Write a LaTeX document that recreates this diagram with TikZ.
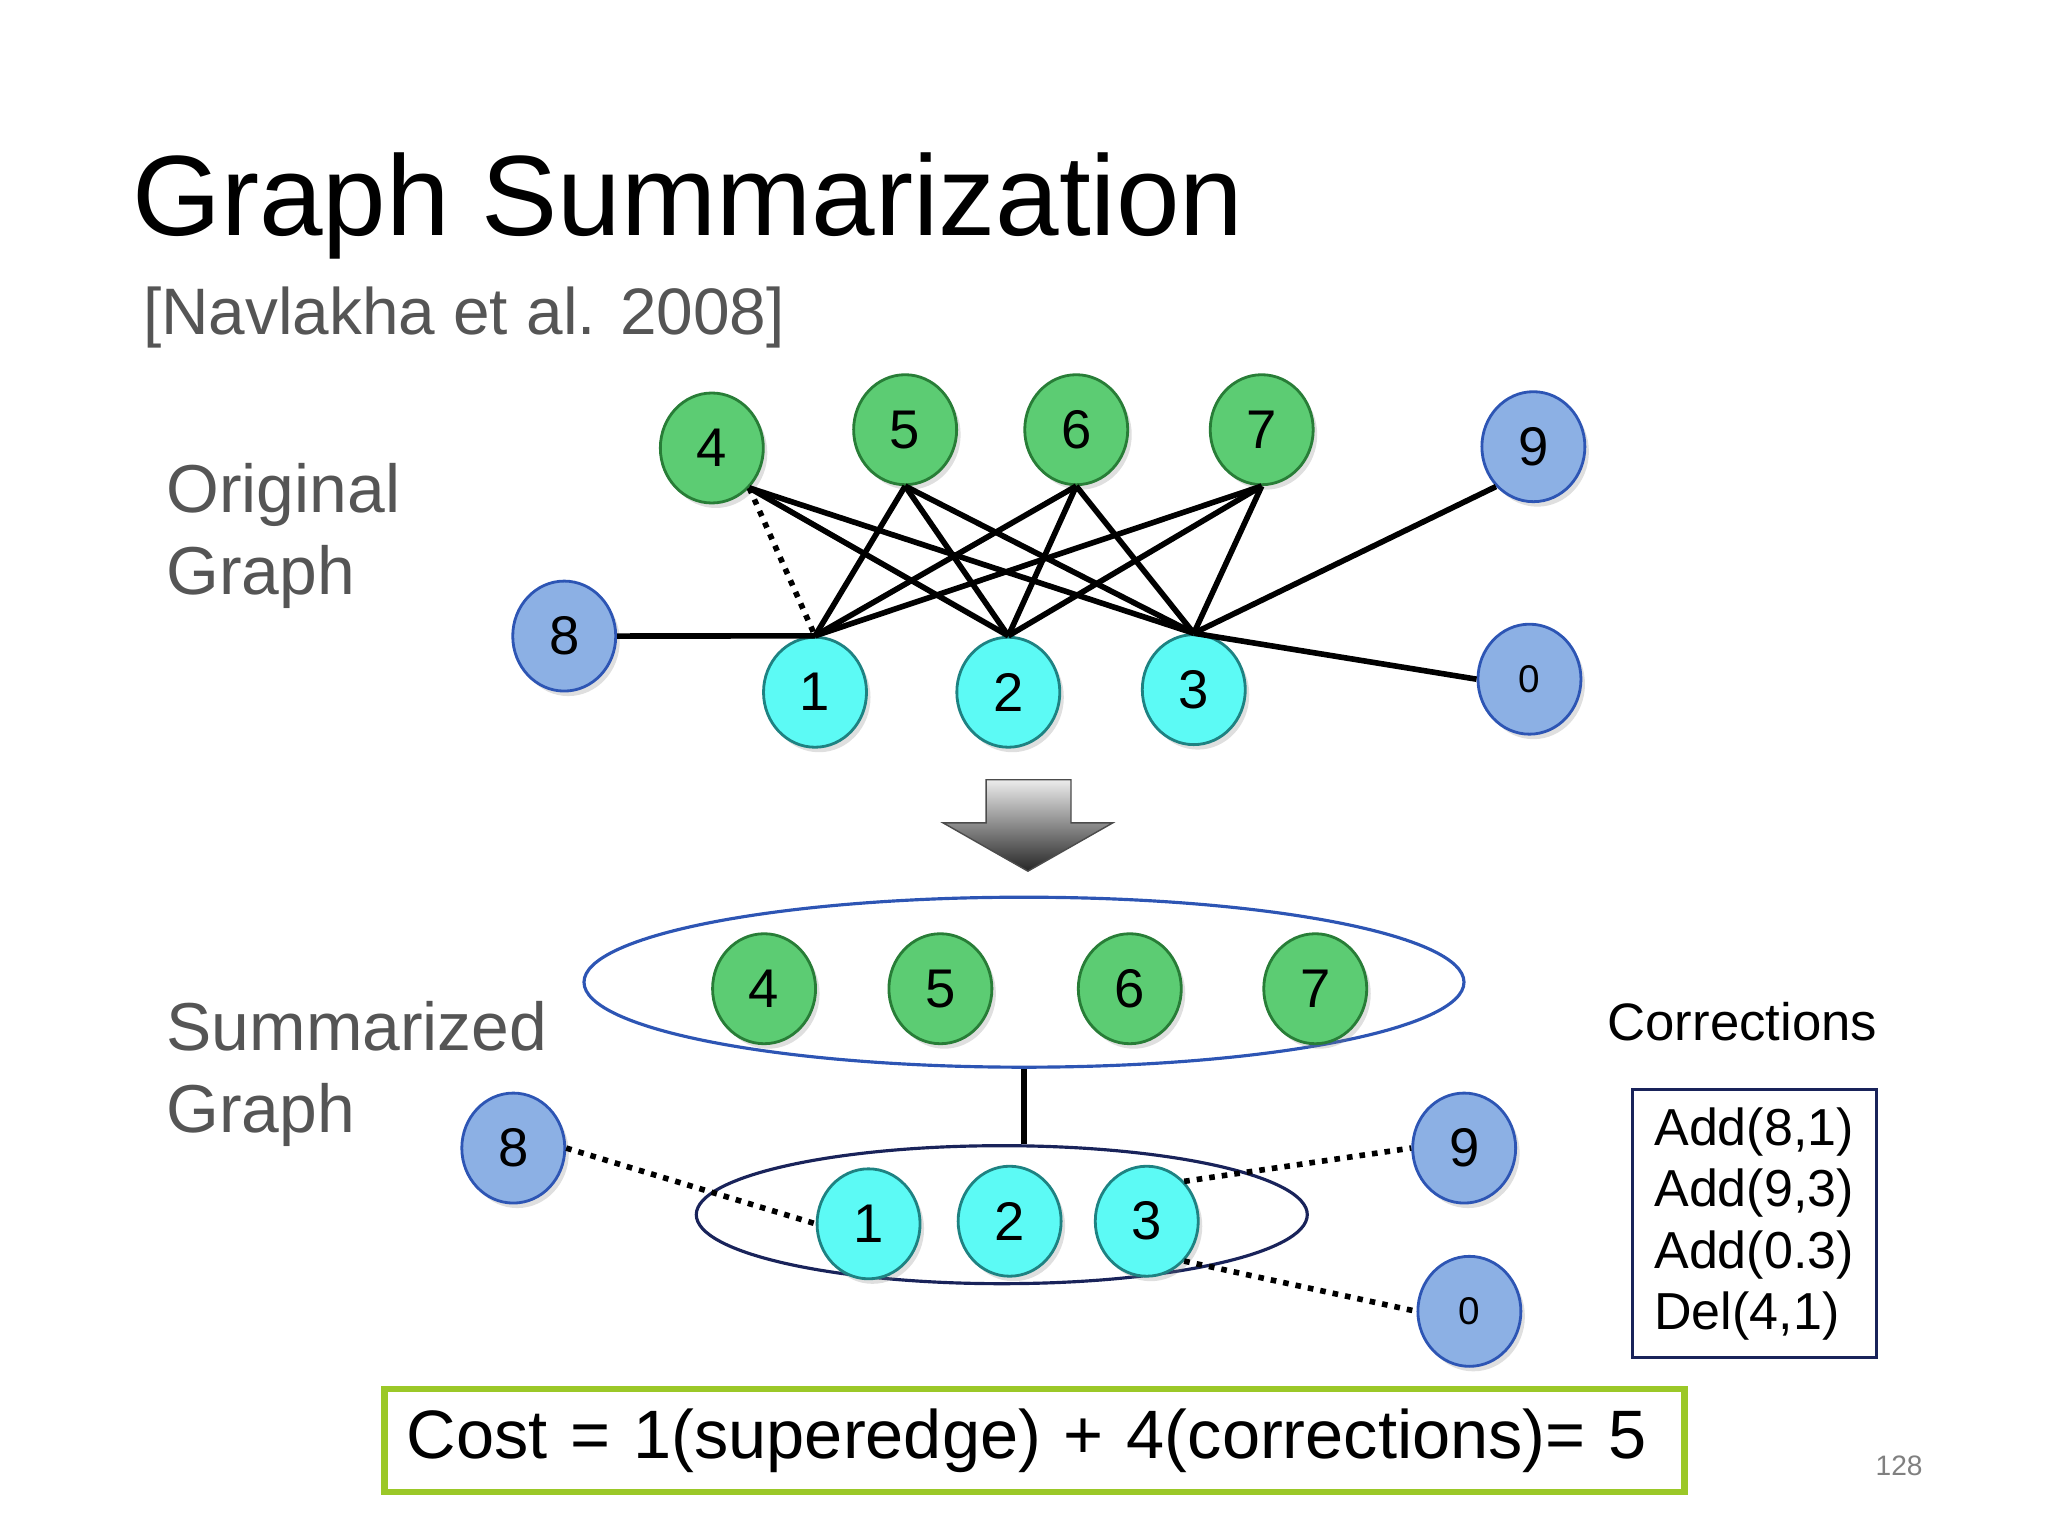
\documentclass[tikz,border=0pt]{standalone}
\usepackage{fontspec}
\setmainfont{Liberation Sans}
\usepackage{tikz}
\definecolor{gfill}{RGB}{92,204,115}
\definecolor{gline}{RGB}{40,125,55}
\definecolor{cfill}{RGB}{92,250,245}
\definecolor{cline}{RGB}{30,130,130}
\definecolor{bfill}{RGB}{140,176,228}
\definecolor{bline}{RGB}{45,85,180}
\definecolor{greytext}{RGB}{85,85,85}
\definecolor{navy}{RGB}{25,35,90}
\definecolor{limegreen}{RGB}{155,200,40}
\usetikzlibrary{shapes,arrows,positioning,calc,shadows}
\begin{document}
\begin{tikzpicture}[
    x=0.01306cm, y=-0.01306cm,
    every node/.style={align=left},
    vtx/.style={ellipse, draw, line width=0.8pt, minimum width=1.03cm, minimum height=1.1cm, inner sep=0pt, font=\fontsize{15.5}{18}\selectfont, drop shadow={shadow xshift=0.04cm, shadow yshift=-0.05cm, opacity=0.25}},
    gnode/.style={vtx, fill=gfill, draw=gline},
    cnode/.style={vtx, fill=cfill, draw=cline},
    bnode/.style={vtx, fill=bfill, draw=bline},
    edge/.style={line width=1.6pt},
    dedge/.style={line width=1.6pt, dotted}
]
    \useasboundingbox (0,0) rectangle (1568,1176);
    % Titles
    \node[anchor=base west, font=\fontsize{32.5}{36}\selectfont] (title) at (92,180) {Graph Summarization};
    \node[anchor=base west, font=\fontsize{18.7}{22}\selectfont, text=greytext] (cite) at (100,256) {[Navlakha et al. 2008]};
    \node[anchor=north west, font=\fontsize{19.3}{23.5}\selectfont, text=greytext] (orig) at (118,345) {Original\\Graph};
    \node[anchor=north west, font=\fontsize{19.3}{23.5}\selectfont, text=greytext] (summ) at (118,757) {Summarized\\Graph};

    % Original graph
    \node[gnode] (a4) at (545,343) {4};
    \node[gnode] (a5) at (693,329) {5};
    \node[gnode] (a6) at (824,329) {6};
    \node[gnode] (a7) at (966,329) {7};
    \node[bnode] (a9) at (1174,342) {9};
    \node[bnode] (a8) at (432,487) {8};
    \node[cnode] (a1) at (624,530) {1};
    \node[cnode] (a2) at (772,530) {2};
    \node[cnode] (a3) at (914,528) {3};
    \node[bnode, font=\fontsize{11}{13}\selectfont] (a0) at (1171,520) {0};
    \foreach \u in {5,6,7}
        \foreach \v in {1,2,3}
            \draw[edge] (a\u.south) -- (a\v.north);
    \draw[edge] (a4.south east) -- (a2.north);
    \draw[edge] (a4.south east) -- (a3.north);
    \draw[dedge] (a4.south east) -- (a1.north);
    \draw[edge] (a8.east) -- (a1.north);
    \draw[edge] (a9.south west) -- (a3.north);
    \draw[edge] (a0.west) -- (a3.north);

    % Down arrow
    \shade[top color=gray!15, bottom color=black!85, draw=black!70]
        (755,597) -- (820,597) -- (820,630) -- (852,630) -- (787,667)
        -- (722,630) -- (755,630) -- cycle;

    % Summarized graph
    \node[ellipse, draw=bline, line width=0.9pt, minimum width=8.80cm, minimum height=1.70cm] (top) at (784,752) {};
    \node[ellipse, draw=navy, line width=0.9pt, minimum width=6.11cm, minimum height=1.38cm] (bot) at (767,930) {};
    \node[gnode] (b4) at (585,757) {4};
    \node[gnode] (b5) at (720,757) {5};
    \node[gnode] (b6) at (865,757) {6};
    \node[gnode] (b7) at (1007,757) {7};
    \node[bnode] (b8) at (393,879) {8};
    \node[bnode] (b9) at (1121,879) {9};
    \node[bnode, font=\fontsize{11}{13}\selectfont] (b0) at (1125,1004) {0};
    \node[cnode] (b1) at (665,937) {1};
    \node[cnode] (b2) at (773,935) {2};
    \node[cnode] (b3) at (878,935) {3};
    \draw[edge] (top.south) -- (top.south |- bot.north);
    \draw[dedge] (b8.east) -- (b1.west);
    \draw[dedge] (b3.north east) -- (b9.west);
    \draw[dedge] (b3.south east) -- (b0.west);

    % Corrections
    \node[font=\fontsize{15}{18}\selectfont] (corr) at (1334,782) {Corrections};
    \node[draw=navy, line width=0.9pt, minimum width=2.44cm, minimum height=2.68cm, inner xsep=5pt, font=\fontsize{14.8}{17.5}\selectfont] (list) at (1343,937) {Add(8,1)\\Add(9,3)\\Add(0.3)\\Del(4,1)};

    % Cost
    \node[draw=limegreen, line width=1.8pt, minimum width=13.0cm, minimum height=1.03cm, text width=12.55cm, font=\fontsize{19.5}{23}\selectfont] (cost) at (792,1103) {Cost = 1(superedge) + 4(corrections)= 5};
    \node[font=\fontsize{8}{10}\selectfont, text=gray] (page) at (1454,1122) {128};
\end{tikzpicture}
\end{document}
